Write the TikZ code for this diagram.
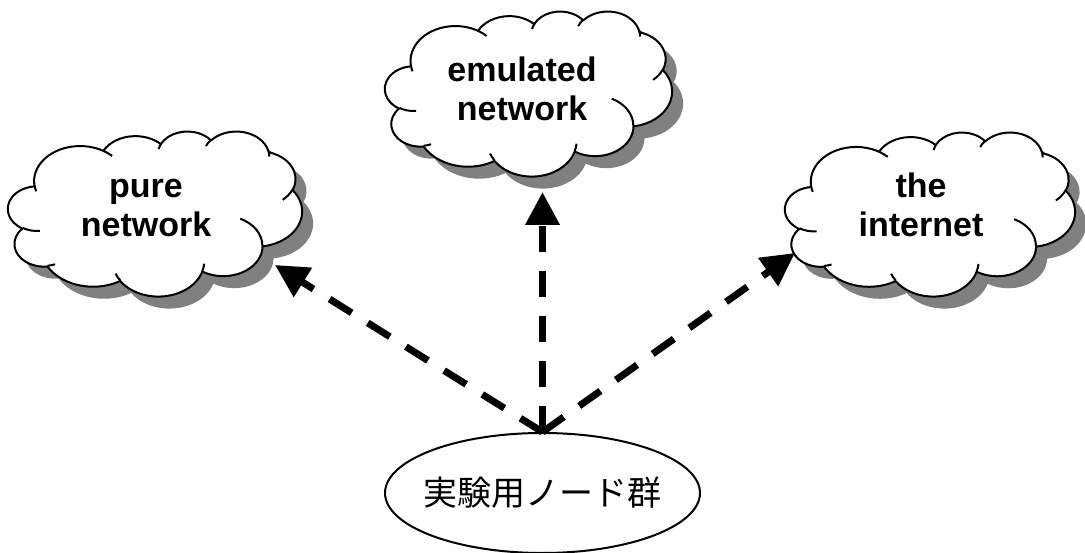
\documentclass[tikz,border=0pt]{standalone}
\usepackage{fontspec}
\newfontfamily\cloudfont{Liberation Sans}
\newfontfamily\jpfont{Noto Sans CJK JP}
\usetikzlibrary{arrows.meta,shapes.geometric}

\definecolor{shadowgray}{RGB}{128,128,128}

% Elliptic arc given by radii (wR,hR), a start ray angle and a sweep;
% the ray angles are turned into TikZ's parametric angles here.
\newcommand\ooangles[4]{%
  \pgfmathsetmacro\ooA{atan2(#1*sin(#3),#2*cos(#3))}%
  \pgfmathsetmacro\ooB{atan2(#1*sin(#3+#4),#2*cos(#3+#4))}%
  \pgfmathsetmacro\ooD{mod(\ooB-\ooA+720,360)}%
  \xdef\ooStart{\ooA}\xdef\ooDelta{\ooD}}
\newcommand\ooarc[4]{\pgfextra{\ooangles{#1}{#2}{#3}{#4}}
  arc[start angle=\ooStart, delta angle=\ooDelta, x radius=#1, y radius=#2]}

% outline of a cloud in a 43.2 x 43.2 box (y pointing down)
\newcommand\cloudouter{(3.900,14.370)
  \ooarc{6.753}{9.190}{-190.4875}{123.7805}
  \ooarc{5.333}{7.267}{-144.1024}{89.9452}
  \ooarc{4.365}{5.945}{-145.8079}{99.7230}
  \ooarc{4.857}{6.595}{-130.9861}{117.2417}
  \ooarc{5.333}{7.273}{-78.7089}{109.0269}
  \ooarc{6.775}{9.220}{-46.2673}{130.2690}
  \ooarc{5.785}{7.867}{0.6250}{114.0333}
  \ooarc{6.752}{9.215}{22.4516}{115.1726}
  \ooarc{7.720}{10.543}{66.2426}{75.7110}
  \ooarc{4.360}{5.918}{-274.9421}{146.7356}
  \ooarc{4.345}{5.945}{-246.8285}{152.5324}
  -- cycle}
% the small inner strokes between the puffs
\newcommand\cloudinner{
  (4.693,26.177) \ooarc{4.345}{5.945}{86.7420}{26.4295}
  (6.928,34.899) \ooarc{4.360}{5.918}{73.6105}{11.4475}
  (16.478,39.090) \ooarc{6.752}{9.215}{137.6242}{14.0811}
  (28.827,34.751) \ooarc{6.752}{9.215}{6.4533}{15.9984}
  (34.129,22.954) \ooarc{5.785}{7.867}{-70.2924}{70.9174}
  (41.798,15.354) \ooarc{5.333}{7.273}{30.3180}{27.7515}
  (38.324,5.426) \ooarc{4.857}{6.595}{-13.7443}{14.8589}
  (29.078,3.952) \ooarc{4.857}{6.595}{-149.1815}{18.1954}
  (22.141,4.720) \ooarc{4.365}{5.945}{-163.4943}{17.6864}
  (14.000,5.192) \ooarc{6.753}{9.190}{-66.7070}{12.3194}
  (4.127,15.789) \ooarc{6.753}{9.190}{157.6544}{11.8582}}

% cloud with drop shadow: left, top, width, height
\newcommand\cloudat[4]{%
  \pgfmathsetmacro\cw{#3/43.2}\pgfmathsetmacro\ch{#4/43.2}%
  \begin{scope}[shift={(#1+11,#2+12)}, x={(\cw pt,0pt)}, y={(0pt,-\ch pt)}]
    \fill[cloudshadow] \cloudouter;
  \end{scope}
  \begin{scope}[shift={(#1,#2)}, x={(\cw pt,0pt)}, y={(0pt,-\ch pt)}]
    \filldraw[cloudline, fill=white] \cloudouter;
    \draw[cloudline] \cloudinner;
  \end{scope}}

\tikzset{
  cloudline/.style={draw=black, line width=2pt, line join=round},
  cloudshadow/.style={fill=shadowgray},
  cloudtext/.style={font=\cloudfont\bfseries\fontsize{34}{39}\selectfont, align=center, inner sep=0pt},
  groupnode/.style={ellipse, draw, line width=2pt, minimum width=315pt, minimum height=120pt,
    inner xsep=-9pt, inner ysep=0pt, font=\jpfont\fontsize{34}{40}\selectfont},
  dasharrow/.style={line width=7pt, dash pattern=on 26pt off 19pt,
    -{Triangle[length=33pt,width=33pt]}}
}

\begin{document}
\begin{tikzpicture}[x=1pt, y=-1pt]
  \useasboundingbox (0,0) rectangle (1085,553);

  \cloudat{8}{131}{294}{165}
  \cloudat{385}{11}{287}{165}
  \cloudat{785}{132}{290}{164}

  \node[cloudtext] (pure) at (146,208) {pure\\network};
  \node[cloudtext] (emul) at (522,88.5) {emulated\\network};
  \node[cloudtext] (inet) at (921,205) {the\\internet};

  \node[groupnode] (nodes) at (542.5,493) {実験用ノード群};

  \coordinate (tipL) at (275,265);
  \coordinate (tipM) at (542.5,192);
  \coordinate (tipR) at (795,253);

  \draw[dasharrow] (nodes.north) -- (tipL);
  \draw[dasharrow] (nodes.north) -- (tipM);
  \draw[dasharrow] (nodes.north) -- (tipR);
\end{tikzpicture}
\end{document}
